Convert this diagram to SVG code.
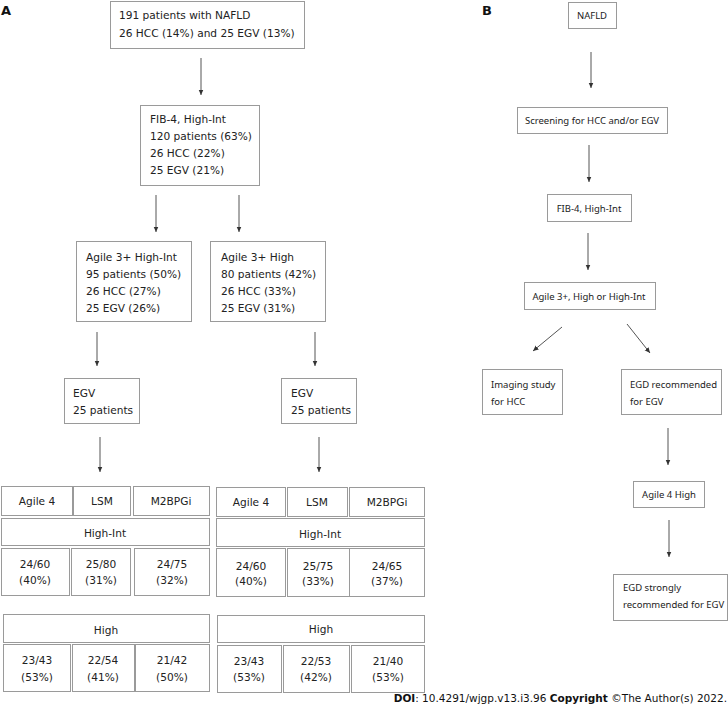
<svg xmlns="http://www.w3.org/2000/svg" width="728" height="712" viewBox="0 0 728 712">
<defs>
<marker id="ah" markerUnits="userSpaceOnUse" markerWidth="6" markerHeight="6" refX="5.5" refY="3" orient="auto">
<path d="M0,0.5 L5.5,3 L0,5.5 z" fill="#333"/>
</marker>
<style>
.box{fill:#fff;stroke:#9a9a9a;stroke-width:1}
.a{font-family:"DejaVu Sans",Verdana,sans-serif;font-size:10.6px;fill:#222}
.c{text-anchor:middle}
.b{font-family:"Noto Sans","Open Sans",sans-serif;font-size:9.5px;fill:#222}
.lbl{font-family:"DejaVu Sans",Verdana,sans-serif;font-size:13px;font-weight:bold;fill:#111}
.conn line{stroke:#555;stroke-width:1;marker-end:url(#ah)}
</style>
</defs>
<rect width="728" height="712" fill="#fff"/>
<text class="lbl" x="1" y="15">A</text>
<text class="lbl" x="482" y="15">B</text>

<g id="a-root"><rect class="box" x="110.5" y="1.5" width="194" height="47"/>
<text class="a" x="119" y="19">191 patients with NAFLD</text>
<text class="a" x="119" y="37">26 HCC (14%) and 25 EGV (13%)</text></g>

<g id="a-fib4"><rect class="box" x="140.5" y="105.5" width="119" height="80"/>
<text class="a" x="150" y="123">FIB-4, High-Int</text>
<text class="a" x="150" y="140">120 patients (63%)</text>
<text class="a" x="150" y="157">26 HCC (22%)</text>
<text class="a" x="150" y="174">25 EGV (21%)</text></g>

<g id="a-agile-hi"><rect class="box" x="76.5" y="241.5" width="115" height="80"/>
<text class="a" x="86" y="261">Agile 3+ High-Int</text>
<text class="a" x="86" y="278">95 patients (50%)</text>
<text class="a" x="86" y="295">26 HCC (27%)</text>
<text class="a" x="86" y="312">25 EGV (26%)</text></g>

<g id="a-agile-h"><rect class="box" x="210.5" y="241.5" width="115" height="80"/>
<text class="a" x="221" y="261">Agile 3+ High</text>
<text class="a" x="221" y="278">80 patients (42%)</text>
<text class="a" x="221" y="295">26 HCC (33%)</text>
<text class="a" x="221" y="312">25 EGV (31%)</text></g>

<g id="a-egv-l"><rect class="box" x="64.5" y="378.5" width="75" height="45"/>
<text class="a" x="73" y="397">EGV</text>
<text class="a" x="73" y="414">25 patients</text></g>

<g id="a-egv-r"><rect class="box" x="281.5" y="378.5" width="75" height="45"/>
<text class="a" x="291" y="397">EGV</text>
<text class="a" x="291" y="414">25 patients</text></g>

<g id="a-table-l">
<rect class="box" x="1.5" y="486.5" width="71" height="29"/><text class="a c" x="37" y="505">Agile 4</text>
<rect class="box" x="73.5" y="486.5" width="57" height="29"/><text class="a c" x="102" y="505">LSM</text>
<rect class="box" x="133.5" y="486.5" width="76" height="29"/><text class="a c" x="171" y="505">M2BPGi</text>
<rect class="box" x="1.5" y="518.5" width="208" height="27"/><text class="a c" x="105" y="537">High-Int</text>
<rect class="box" x="1.5" y="548.5" width="68" height="47"/><text class="a c" x="35" y="568">24/60</text><text class="a c" x="35" y="584">(40%)</text>
<rect class="box" x="71.5" y="548.5" width="59" height="47"/><text class="a c" x="101" y="568">25/80</text><text class="a c" x="101" y="584">(31%)</text>
<rect class="box" x="134.5" y="548.5" width="75" height="47"/><text class="a c" x="172" y="568">24/75</text><text class="a c" x="172" y="584">(32%)</text>
<rect class="box" x="3.5" y="614.5" width="206" height="28"/><text class="a c" x="106" y="634">High</text>
<rect class="box" x="3.5" y="644.5" width="67" height="47"/><text class="a c" x="37" y="664">23/43</text><text class="a c" x="37" y="681">(53%)</text>
<rect class="box" x="72.5" y="644.5" width="62" height="47"/><text class="a c" x="103" y="664">22/54</text><text class="a c" x="103" y="681">(41%)</text>
<rect class="box" x="135.5" y="644.5" width="74" height="47"/><text class="a c" x="172" y="664">21/42</text><text class="a c" x="172" y="681">(50%)</text>
</g>

<g id="a-table-r">
<rect class="box" x="216.5" y="487.5" width="69" height="29"/><text class="a c" x="251" y="506">Agile 4</text>
<rect class="box" x="287.5" y="487.5" width="60" height="29"/><text class="a c" x="317" y="506">LSM</text>
<rect class="box" x="349.5" y="487.5" width="75" height="29"/><text class="a c" x="387" y="506">M2BPGi</text>
<rect class="box" x="216.5" y="518.5" width="208" height="28"/><text class="a c" x="320" y="538">High-Int</text>
<rect class="box" x="216.5" y="548.5" width="69" height="48"/><text class="a c" x="251" y="570">24/60</text><text class="a c" x="251" y="585">(40%)</text>
<rect class="box" x="287.5" y="548.5" width="62" height="48"/><text class="a c" x="318" y="570">25/75</text><text class="a c" x="318" y="585">(33%)</text>
<rect class="box" x="349.5" y="548.5" width="75" height="48"/><text class="a c" x="387" y="570">24/65</text><text class="a c" x="387" y="585">(37%)</text>
<rect class="box" x="217.5" y="615.5" width="207" height="27"/><text class="a c" x="321" y="633">High</text>
<rect class="box" x="217.5" y="645.5" width="64" height="47"/><text class="a c" x="249" y="665">23/43</text><text class="a c" x="249" y="681">(53%)</text>
<rect class="box" x="283.5" y="645.5" width="66" height="47"/><text class="a c" x="316" y="665">22/53</text><text class="a c" x="316" y="681">(42%)</text>
<rect class="box" x="351.5" y="645.5" width="73" height="47"/><text class="a c" x="388" y="665">21/40</text><text class="a c" x="388" y="681">(53%)</text>
</g>

<g id="b-nafld"><rect class="box" x="568.5" y="2.5" width="48" height="26"/><text class="b c" x="592" y="19">NAFLD</text></g>
<g id="b-screen"><rect class="box" x="517.5" y="107.5" width="150" height="26"/><text class="b c" x="592" y="124">Screening for HCC and/or EGV</text></g>
<g id="b-fib4"><rect class="box" x="547.5" y="194.5" width="84" height="27"/><text class="b c" x="589" y="212">FIB-4, High-Int</text></g>
<g id="b-agile3"><rect class="box" x="524.5" y="282.5" width="131" height="27"/><text class="b c" x="589" y="300">Agile 3+, High or High-Int</text></g>
<g id="b-imaging"><rect class="box" x="482.5" y="369.5" width="80" height="45"/><text class="b" x="491" y="388">Imaging study</text><text class="b" x="491" y="405">for HCC</text></g>
<g id="b-egd"><rect class="box" x="621.5" y="369.5" width="100" height="45"/><text class="b" x="630" y="388">EGD recommended</text><text class="b" x="630" y="405">for EGV</text></g>
<g id="b-agile4"><rect class="box" x="633.5" y="481.5" width="71" height="26"/><text class="b c" x="669" y="498">Agile 4 High</text></g>
<g id="b-strong"><rect class="box" x="613.5" y="574.5" width="114" height="46"/><text class="b" x="623" y="591">EGD strongly</text><text class="b" x="623" y="608">recommended for EGV</text></g>

<g id="connectors" class="conn">
<line x1="201" y1="58" x2="201" y2="95"/>
<line x1="156" y1="195" x2="156" y2="232"/>
<line x1="239" y1="195" x2="239" y2="232"/>
<line x1="97" y1="332" x2="97" y2="366"/>
<line x1="315" y1="332" x2="315" y2="366"/>
<line x1="100" y1="437" x2="100" y2="472"/>
<line x1="319" y1="437" x2="319" y2="472"/>
<line x1="591" y1="52" x2="591" y2="88"/>
<line x1="589" y1="145" x2="589" y2="182"/>
<line x1="588" y1="233" x2="588" y2="270"/>
<line x1="562" y1="327" x2="533" y2="351"/>
<line x1="627" y1="324" x2="650" y2="353"/>
<line x1="668" y1="428" x2="668" y2="465"/>
<line x1="669" y1="520" x2="669" y2="557"/>
</g>

<text x="727" y="702" text-anchor="end" style="font-family:'DejaVu Sans',Verdana,sans-serif;font-size:10.5px;fill:#111"><tspan font-weight="bold">DOI</tspan>: 10.4291/wjgp.v13.i3.96 <tspan font-weight="bold">Copyright</tspan> ©The Author(s) 2022.</text>
</svg>
